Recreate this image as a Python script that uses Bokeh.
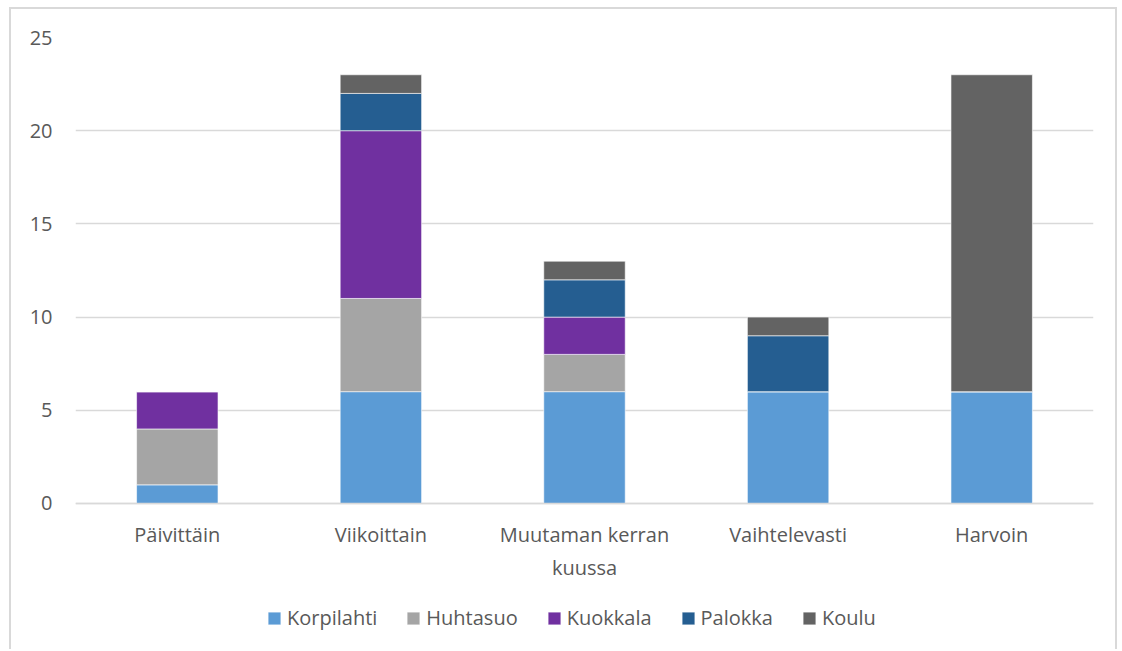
from bokeh.plotting import figure
from bokeh.models import ColumnDataSource, Range1d, FactorRange, FixedTicker, Legend, LegendItem
from bokeh.embed import file_html
from bokeh.resources import INLINE

categories = ["Päivittäin", "Viikoittain", "Muutaman kerran\nkuussa", "Vaihtelevasti", "Harvoin"]
series = ["Korpilahti", "Huhtasuo", "Kuokkala", "Palokka", "Koulu"]
korpilahti = [1, 6, 6, 6, 6]
huhtasuo = [3, 5, 2, 0, 0]
kuokkala = [2, 9, 2, 0, 0]
palokka = [0, 2, 2, 3, 0]
koulu = [0, 1, 1, 1, 17]
colors = ["#5B9BD5", "#A5A5A5", "#7030A0", "#255E91", "#636363"]
y_ticks = [0, 5, 10, 15, 20, 25]

source = ColumnDataSource(data=dict(
    cat=categories,
    Korpilahti=korpilahti,
    Huhtasuo=huhtasuo,
    Kuokkala=kuokkala,
    Palokka=palokka,
    Koulu=koulu,
))

FONT = "Open Sans"
TXT = "#595959"

# frame runs from the top gridline down to the bottom of the chart area,
# so the legend (placed inside the frame) is not clipped; y=0 sits where
# the reference's baseline is.
p = figure(
    x_range=FactorRange(*categories, range_padding=0),
    y_range=Range1d(-7.94, 25),
    width=1108, height=642,
    output_backend="svg", toolbar_location=None,
    min_border_left=64, min_border_right=26, min_border_top=28, min_border_bottom=0,
)
p.styles = {
    "border-top": "2px solid #D9D9D9",
    "border-left": "2px solid #D9D9D9",
    "border-right": "2px solid #D9D9D9",
    "margin-left": "9px",
    "margin-top": "7px",
}
p.outline_line_color = None
p.background_fill_color = "white"
p.border_fill_color = "white"

renderers = p.vbar_stack(series, x="cat", width=0.4, color=colors, source=source,
                         line_color="white", line_width=0.6)

p.xgrid.grid_line_color = None
p.ygrid.grid_line_color = "#D9D9D9"
p.ygrid.grid_line_width = 1.3
p.yaxis.ticker = FixedTicker(ticks=y_ticks)

p.yaxis.axis_line_color = None
p.yaxis.major_tick_line_color = None
p.yaxis.minor_tick_line_color = None
p.yaxis.major_label_standoff = 17
p.yaxis.major_label_text_font = FONT
p.yaxis.major_label_text_font_size = "20px"
p.yaxis.major_label_text_color = TXT

p.xaxis.fixed_location = 0
p.xaxis.axis_line_color = "#D9D9D9"
p.xaxis.axis_line_width = 1.3
p.xaxis.major_tick_line_color = None
p.xaxis.minor_tick_line_color = None
p.xaxis.major_label_standoff = 12
p.xaxis.major_label_text_font = FONT
p.xaxis.major_label_text_font_size = "20px"
p.xaxis.major_label_text_color = TXT

lg = Legend(items=[LegendItem(label=s, renderers=[r]) for s, r in zip(series, renderers)])
lg.orientation = "horizontal"
lg.location = (191, 20)
lg.padding = 0
lg.margin = 0
lg.spacing = 28
lg.label_standoff = 5
lg.glyph_width = 16
lg.glyph_height = 16
lg.border_line_color = None
lg.background_fill_alpha = 0
lg.label_text_font = FONT
lg.label_text_font_size = "20px"
lg.label_text_color = TXT
p.add_layout(lg, "center")

open("out.html", "w").write(file_html(p, INLINE))
